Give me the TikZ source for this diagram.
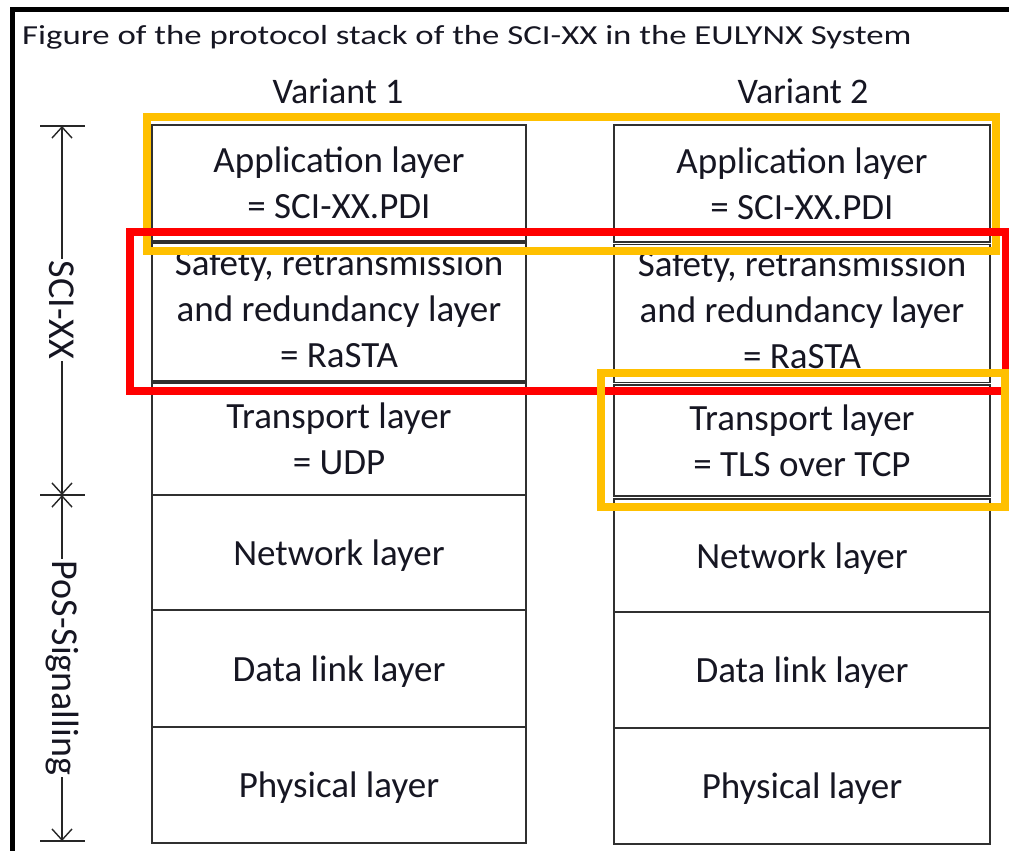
\documentclass[tikz,border=0pt]{standalone}
\usepackage{fontspec}
\setmainfont{Carlito}
\usetikzlibrary{arrows.meta}
\definecolor{goldframe}{HTML}{FFC000}
\definecolor{redframe}{HTML}{FF0000}
\definecolor{boxline}{HTML}{303030}
\definecolor{inktext}{HTML}{161622}

\tikzset{
  layerbox/.style={draw=boxline, line width=1.8pt, inner sep=0pt, align=center,
    text=inktext, font=\fontsize{37}{46}\selectfont},
  oneline/.style={text height=30pt, text depth=4.8pt},
  colhead/.style={anchor=base, text=inktext, font=\fontsize{36}{40}\selectfont},
  highlight/.style={line width=7.5pt},
  dimline/.style={line width=1.4pt, draw=black!85},
  dimtip/.style={{Straight Barb[length=11pt,width=20pt,line width=1.4pt]}-{Straight Barb[length=11pt,width=20pt,line width=1.4pt]}},
  dimlabel/.style={rotate=-90, fill=white, inner sep=2pt, text=inktext,
    font=\fontsize{38}{40}\selectfont},
}

\begin{document}
\begin{tikzpicture}[x=1pt, y=-1pt]
  \useasboundingbox (0,0) rectangle (1009,851);

  % outer frame (top and left edges)
  \draw[line width=5pt, miter limit=10] (12,851) -- (12,10) -- (1009,10);

  % title and column headings
  \node[anchor=base west, inner sep=0pt, text=inktext, font=\fontsize{27.5}{30}\selectfont]
    (title) at (22,45) {\scalebox{1.265}[1]{Figure of the protocol stack of the SCI-XX in the EULYNX System}};
  \node[colhead] (v1) at (338,103) {Variant 1};
  \node[colhead] (v2) at (803,103) {Variant 2};

  % Variant 1 stack
  \node[layerbox, minimum width=374pt, minimum height=116pt] (a1) at (339,183)   {Application layer\\= SCI-XX.PDI};
  \node[layerbox, minimum width=374pt, minimum height=136pt] (s1) at (339,312)   {\raisebox{0.5pt}{\begin{tabular}{@{}c@{}}Safety, retransmission\\and redundancy layer\\= RaSTA\end{tabular}}};
  \node[layerbox, minimum width=374pt, minimum height=112pt] (t1) at (339,439)   {Transport layer\\= UDP};
  \node[layerbox, oneline, minimum width=374pt, minimum height=115pt] (n1) at (339,552.5) {Network layer};
  \node[layerbox, oneline, minimum width=374pt, minimum height=117pt] (d1) at (339,668.5) {Data link layer};
  \node[layerbox, oneline, minimum width=374pt, minimum height=116pt] (p1) at (339,785)   {Physical layer};

  % Variant 2 stack
  \node[layerbox, minimum width=376pt, minimum height=117pt] (a2) at (802,183.5) {Application layer\\= SCI-XX.PDI};
  \node[layerbox, minimum width=376pt, minimum height=137pt] (s2) at (802,313.5) {\raisebox{0.5pt}{\begin{tabular}{@{}c@{}}Safety, retransmission\\and redundancy layer\\= RaSTA\end{tabular}}};
  \node[layerbox, minimum width=376pt, minimum height=111pt] (t2) at (802,440.5) {Transport layer\\= TLS over TCP};
  \node[layerbox, oneline, minimum width=376pt, minimum height=113pt] (n2) at (802,555.5) {Network layer};
  \node[layerbox, oneline, minimum width=376pt, minimum height=116pt] (d2) at (802,670)   {Data link layer};
  \node[layerbox, oneline, minimum width=376pt, minimum height=116pt] (p2) at (802,786)   {Physical layer};

  % highlight frames
  \draw[highlight, draw=goldframe] (147,117) rectangle (996,251);
  \draw[highlight, draw=redframe]  (130,232) rectangle (1006,391);
  \draw[highlight, draw=goldframe] (601,373) rectangle (1005,507);

  % dimension line on the left
  \coordinate (dtop) at (62,126);
  \coordinate (dmid) at (62,495);
  \coordinate (dbot) at (62,841);
  \foreach \c in {dtop,dmid,dbot}
    \draw[dimline] ([xshift=-22pt]\c) -- ([xshift=23pt]\c);
  \draw[dimline, dimtip] (dtop) -- (dmid);
  \draw[dimline, dimtip] (dmid) -- (dbot);
  \node[dimlabel] (sci) at (62,310) {SCI-XX};
  \node[dimlabel] (pos) at (62,668) {PoS-Signalling};
\end{tikzpicture}
\end{document}
